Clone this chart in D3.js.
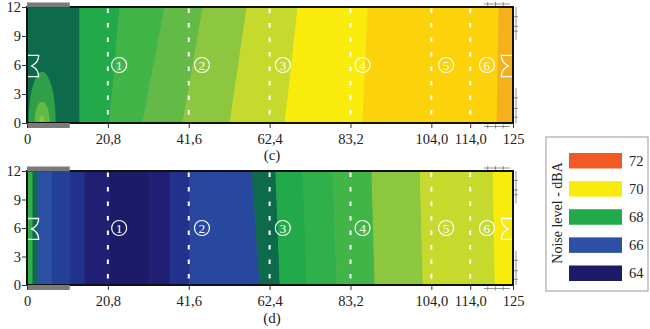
<!DOCTYPE html>
<html><head><meta charset="utf-8">
<script src="https://cdn.jsdelivr.net/npm/d3@7/dist/d3.min.js"></script>
<style>body{margin:0;background:#fff}svg{display:block}</style>
</head><body><svg id="chart" width="650" height="329"></svg>
<script>
// ---- data ----
const xDomain = [0, 125];
const yDomain = [0, 12];
const xTicks = [0, 20.8, 41.6, 62.4, 83.2, 104.0, 114.0, 125];
const xTickLabels = ["0", "20,8", "41,6", "62,4", "83,2", "104,0", "114,0", "125"];
const yTicks = [0, 3, 6, 9, 12];
const sectionLines = [20.8, 41.6, 62.4, 83.2, 104.0, 114.0];
const sectionLabelX = [23.7, 45.0, 65.8, 86.3, 107.8, 118.3];
const sectionLabels = ["1", "2", "3", "4", "5", "6"];
const sectionLabelY = 6;

// panel (c): contour band edges at y=0 and y=12, and band noise levels (dBA)
const cEdgesBottom = [0, 13.6, 21.3, 29.8, 40.1, 52.2, 66.4, 86.4, 120.9, 125];
const cEdgesTop    = [0, 13.6, 23.9, 35.5, 45.3, 56.6, 69.7, 87.7, 121.4, 125];
const cLevels      = [67.0, 68.0, 68.5, 68.75, 69.0, 69.5, 70.0, 71.0, 71.5];
const cSpotX  = [3.9, 3.9, 3.8];
const cSpotRx = [3.5, 2.0, 0.7];
const cSpotRy = [5.3, 2.2, 0.8];
const cSpotLevel = [67.5, 68.75, 69.0];

// panel (d)
const dEdgesBottom = [0, 1.5, 2.8, 6.4, 11.1, 14.9, 21.3, 31.6, 36.8, 41.9, 59.9, 65.1, 72.0, 79.7, 89.5, 101.9, 120.4, 125];
const dEdgesTop    = [0, 1.5, 2.8, 6.4, 11.1, 14.9, 21.3, 31.6, 36.8, 41.9, 57.9, 64.0, 71.0, 78.7, 88.7, 101.1, 119.9, 125];
const dLevels      = [68.25, 67.0, 66.0, 65.0, 64.75, 64.25, 64.0, 64.25, 64.75, 65.5, 67.0, 68.0, 68.25, 68.5, 69.0, 69.5, 70.0];

// legend
const legendLevels = [72, 70, 68, 66, 64];
const legendTitle = "Noise level - dBA";

// speakers (source symbols) at both ends
const speakerX = [0, 125];
const speakerY = [4.8, 7.0];
const greyBarX = [0, 11];

// ---- colour ramp (style) ----
const levelStops  = [64.0, 64.25, 64.5, 64.75, 65.0, 65.5, 66.0, 67.0, 67.5, 68.0, 68.25, 68.5, 68.75, 69.0, 69.5, 70.0, 71.0, 71.5, 72.0];
const levelColors = ["#1c1b6a","#201f74","#222a85","#22318d","#243f96","#2848a0","#2c50a4","#0d6b4c","#2f9f48","#21a94a","#2fb04a","#42b549","#63ba46","#8dc63f","#c6d92d","#f9ec0c","#fcd20b","#f6b01d","#f15a24"];
const color = d3.scaleOrdinal().domain(levelStops).range(levelColors);

// ---- layout ----
const svg = d3.select("#chart");
const x = d3.scaleLinear().domain(xDomain).range([27, 513]);
const FONT = "'Liberation Serif','Times New Roman',serif";

const panels = [
  {name: "(c)", top: 7, bottom: 123, eb: cEdgesBottom, et: cEdgesTop, lv: cLevels, spots: true, labelY: 160},
  {name: "(d)", top: 171, bottom: 285, eb: dEdgesBottom, et: dEdgesTop, lv: dLevels, spots: false, labelY: 323}
];

panels.forEach((p, pi) => {
  const y = d3.scaleLinear().domain(yDomain).range([p.bottom, p.top]);
  const g = svg.append("g");
  const clipId = "clip" + pi;
  g.append("clipPath").attr("id", clipId).append("rect")
    .attr("x", x(0)).attr("y", y(12)).attr("width", x(125) - x(0)).attr("height", y(0) - y(12));
  const plot = g.append("g").attr("clip-path", `url(#${clipId})`);

  // contour bands
  const bands = p.lv.map((lv, i) => ({lv, b0: p.eb[i], b1: p.eb[i + 1], t0: p.et[i], t1: p.et[i + 1]}));
  plot.selectAll("path.band").data(bands).join("path")
    .attr("class", "band")
    .attr("d", d => `M${x(d.b0)},${y(0)}L${x(d.b1)},${y(0)}L${x(d.t1)},${y(12)}L${x(d.t0)},${y(12)}Z`)
    .attr("fill", d => color(d.lv))
    .attr("stroke", d => color(d.lv)).attr("stroke-width", 0.8);

  if (p.spots) {
    const spots = cSpotX.map((sx, i) => ({sx, rx: cSpotRx[i], ry: cSpotRy[i], lv: cSpotLevel[i]}));
    plot.selectAll("ellipse").data(spots).join("ellipse")
      .attr("cx", d => x(d.sx)).attr("cy", y(0))
      .attr("rx", d => x(d.rx) - x(0)).attr("ry", d => y(0) - y(d.ry))
      .attr("fill", d => color(d.lv));
  }

  // dashed section lines
  plot.selectAll("line.sec").data(sectionLines).join("line")
    .attr("class", "sec")
    .attr("x1", d => x(d)).attr("x2", d => x(d))
    .attr("y1", y(12)).attr("y2", y(0))
    .attr("stroke", "#fff").attr("stroke-width", 2)
    .attr("stroke-dasharray", "4.5,10").attr("stroke-dashoffset", -1.5);

  // circled section numbers
  const lab = plot.selectAll("g.sl").data(sectionLabels).join("g").attr("class", "sl")
    .attr("transform", (d, i) => `translate(${x(sectionLabelX[i])},${y(sectionLabelY)})`);
  lab.append("circle").attr("r", 7.5).attr("fill", "none").attr("stroke", "#fff").attr("stroke-width", 1.2);
  lab.append("text").text(d => d).attr("text-anchor", "middle").attr("dy", "0.36em")
    .attr("fill", "#fff").style("font-family", FONT).style("font-size", "13.5px");

  // speakers
  const depth = 3.0;
  speakerX.forEach(sx => {
    const dir = sx === 0 ? 1 : -1;
    const xa = x(sx), xb = x(sx + dir * depth), xm = x(sx + dir * depth * 0.4);
    const ya = y(speakerY[1]), yb = y(speakerY[0]), ym = (ya + yb) / 2;
    plot.append("path")
      .attr("d", `M${xa},${ya}L${xb},${ya}Q${xb},${(ya+ym)/2 + 2} ${xm},${ym}Q${xb},${(ym+yb)/2 - 2} ${xb},${yb}L${xa},${yb}`)
      .attr("fill", "none").attr("stroke", "#fff").attr("stroke-width", 1.3);
  });

  // frame
  g.append("rect").attr("x", x(0)).attr("y", y(12)).attr("width", x(125) - x(0)).attr("height", y(0) - y(12))
    .attr("fill", "none").attr("stroke", "#111").attr("stroke-width", 2);

  // grey bars on left
  g.append("rect").attr("x", x(greyBarX[0])).attr("y", y(12) - 4.5).attr("width", x(greyBarX[1]) - x(greyBarX[0])).attr("height", 5)
    .attr("fill", "#7a7a7a");
  g.append("rect").attr("x", x(greyBarX[0])).attr("y", y(0)).attr("width", x(greyBarX[1]) - x(greyBarX[0])).attr("height", 5)
    .attr("fill", "#7a7a7a");

  // small grey scale decorations on right
  const deco = g.append("g").attr("stroke", "#777").attr("stroke-width", 0.8).attr("fill", "none");
  deco.append("line").attr("x1", x(117.5)).attr("x2", x(124.2)).attr("y1", y(12) - 3).attr("y2", y(12) - 3);
  deco.append("line").attr("x1", x(117.5)).attr("x2", x(124.2)).attr("y1", y(0) + 3.5).attr("y2", y(0) + 3.5);
  deco.append("line").attr("x1", x(125) + 3).attr("x2", x(125) + 3).attr("y1", y(12)).attr("y2", y(8.6));
  deco.append("line").attr("x1", x(125) + 3).attr("x2", x(125) + 3).attr("y1", y(3.6)).attr("y2", y(0));
  [11, 10, 9.5, 2.6, 1.5, 0.6].forEach(t => deco.append("line").attr("x1", x(125) + 1).attr("x2", x(125) + 5).attr("y1", y(t)).attr("y2", y(t)));
  [118.5, 120.5, 122.5].forEach(t => {
    deco.append("line").attr("x1", x(t)).attr("x2", x(t)).attr("y1", y(12) - 5).attr("y2", y(12) - 1);
    deco.append("line").attr("x1", x(t)).attr("x2", x(t)).attr("y1", y(0) + 1.5).attr("y2", y(0) + 5.5);
  });

  // axes
  const ax = g.append("g").attr("transform", `translate(0,${y(0)})`)
    .call(d3.axisBottom(x).tickValues(xTicks).tickFormat((d, i) => xTickLabels[i]).tickSize(5).tickPadding(6));
  ax.select(".domain").remove();
  ax.selectAll("text").style("font-family", FONT).style("font-size", "14.5px").attr("fill", "#222");
  ax.selectAll("line").attr("stroke", "#333");

  const ay = g.append("g").attr("transform", `translate(${x(0)},0)`)
    .call(d3.axisLeft(y).tickValues(yTicks).tickSize(5).tickPadding(1));
  ay.select(".domain").remove();
  ay.selectAll("text").style("font-family", FONT).style("font-size", "14.5px").attr("fill", "#222");
  ay.selectAll("line").attr("stroke", "#333");

  // panel label
  g.append("text").text(p.name).attr("x", 272).attr("y", p.labelY).attr("text-anchor", "middle")
    .style("font-family", FONT).style("font-size", "15px").attr("fill", "#222");
});

// ---- legend ----
const lg = svg.append("g");
lg.append("rect").attr("x", 546).attr("y", 137).attr("width", 102).attr("height", 154)
  .attr("fill", "#fff").attr("stroke", "#999").attr("stroke-width", 1);
const ly = d3.scalePoint().domain(legendLevels).range([160.5, 273]);
lg.selectAll("rect.key").data(legendLevels).join("rect").attr("class", "key")
  .attr("x", 569).attr("y", d => ly(d) - 7.5).attr("width", 53).attr("height", 15.5)
  .attr("fill", d => color(d));
lg.selectAll("text.kl").data(legendLevels).join("text").attr("class", "kl")
  .attr("x", 629).attr("y", d => ly(d)).attr("dy", "0.35em").text(d => d)
  .style("font-family", FONT).style("font-size", "14.5px").attr("fill", "#222");
lg.append("text").text(legendTitle).attr("transform", "translate(562,213) rotate(-90)")
  .attr("text-anchor", "middle").style("font-family", FONT).style("font-size", "14px").attr("fill", "#222");
</script></body></html>
